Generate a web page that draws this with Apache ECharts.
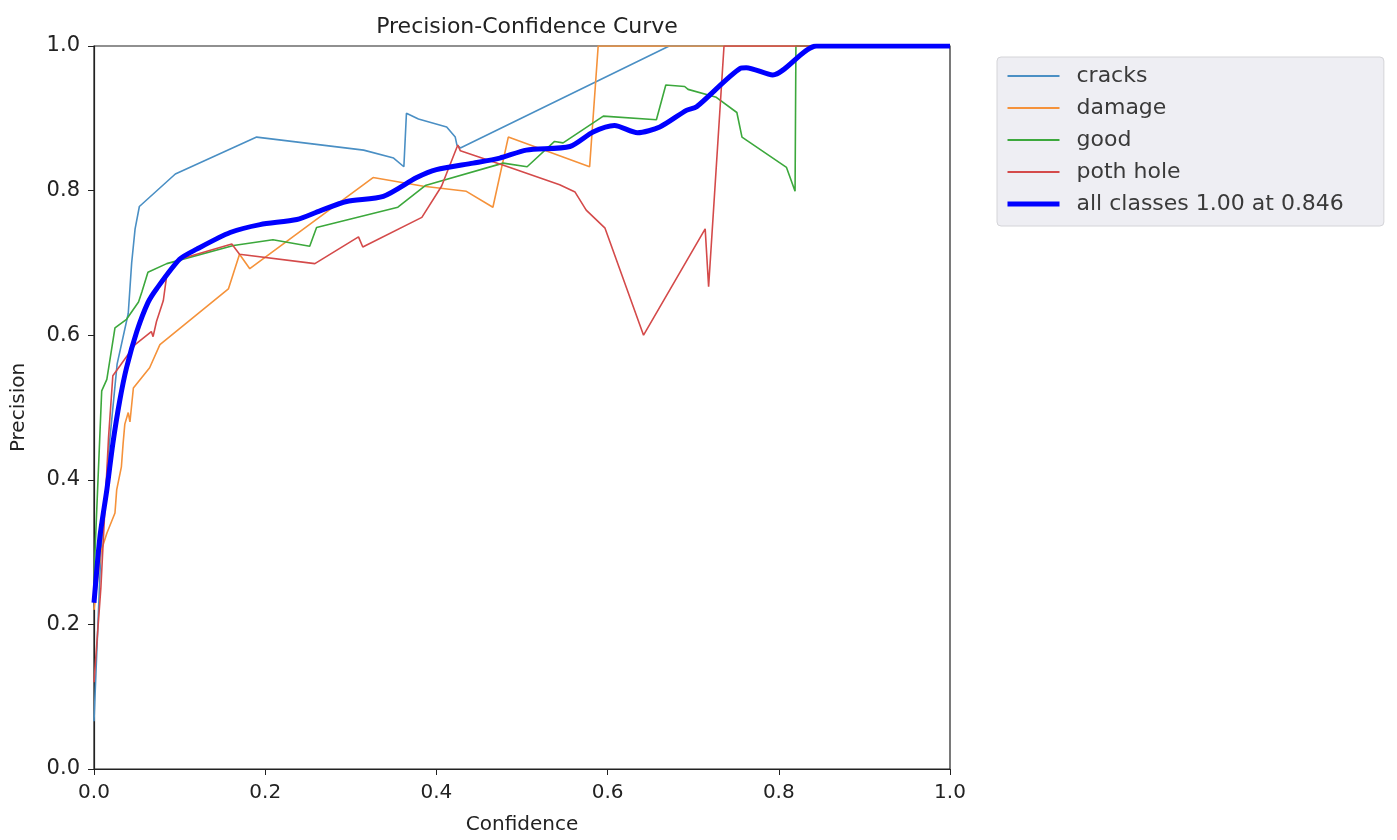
<!DOCTYPE html>
<html>
<head>
<meta charset="utf-8">
<script src="https://cdn.jsdelivr.net/npm/echarts@6/dist/echarts.min.js"></script>
<style>
html,body{margin:0;padding:0;background:#fff;}
#chart{width:1397px;height:840px;}
</style>
</head>
<body>
<div id="chart"></div>
<script>
const xTicks = [0, 0.2, 0.4, 0.6, 0.8, 1.0];
const yTicks = [0, 0.2, 0.4, 0.6, 0.8, 1.0];
const seriesNames = ['cracks', 'damage', 'good', 'poth hole', 'all classes 1.00 at 0.846'];

const cracks = [[0,0.066],[0.008,0.30],[0.018,0.45],[0.027,0.56],[0.04,0.63],[0.044,0.70],[0.048,0.747],[0.053,0.778],[0.095,0.823],[0.19,0.874],[0.315,0.856],[0.35,0.845],[0.362,0.833],[0.365,0.907],[0.379,0.899],[0.412,0.888],[0.422,0.874],[0.424,0.863],[0.428,0.859],[0.672,1.0],[1.0,1.0]];

const damage = [[0,0.22],[0.008,0.30],[0.015,0.326],[0.0245,0.354],[0.0265,0.386],[0.032,0.418],[0.034,0.45],[0.036,0.477],[0.04,0.493],[0.042,0.48],[0.046,0.527],[0.065,0.555],[0.077,0.587],[0.157,0.664],[0.17,0.712],[0.182,0.692],[0.326,0.818],[0.385,0.806],[0.435,0.799],[0.466,0.777],[0.484,0.874],[0.579,0.833],[0.589,1.0],[1.0,1.0]];

const good = [[0,0.24],[0.001,0.295],[0.009,0.523],[0.015,0.539],[0.0245,0.61],[0.038,0.622],[0.052,0.646],[0.056,0.66],[0.063,0.687],[0.085,0.699],[0.163,0.724],[0.209,0.732],[0.252,0.723],[0.26,0.749],[0.355,0.777],[0.387,0.807],[0.478,0.838],[0.506,0.833],[0.538,0.868],[0.548,0.866],[0.595,0.903],[0.657,0.898],[0.668,0.946],[0.69,0.944],[0.694,0.94],[0.727,0.929],[0.751,0.908],[0.757,0.874],[0.809,0.832],[0.819,0.799],[0.82,1.0],[1.0,1.0]];

const pothHole = [[0,0.12],[0.008,0.25],[0.017,0.459],[0.022,0.544],[0.030,0.557],[0.048,0.587],[0.067,0.605],[0.069,0.598],[0.073,0.619],[0.081,0.648],[0.085,0.683],[0.1,0.705],[0.161,0.726],[0.17,0.712],[0.258,0.699],[0.309,0.736],[0.314,0.722],[0.383,0.763],[0.406,0.806],[0.425,0.863],[0.428,0.855],[0.486,0.832],[0.544,0.808],[0.562,0.798],[0.575,0.773],[0.597,0.748],[0.642,0.600],[0.714,0.747],[0.718,0.667],[0.736,1.0],[1.0,1.0]];

const allClasses = [[0,0.23],[0.007,0.322],[0.015,0.386],[0.022,0.45],[0.030,0.509],[0.038,0.555],[0.05,0.605],[0.063,0.645],[0.073,0.664],[0.1,0.705],[0.12,0.719],[0.159,0.742],[0.194,0.753],[0.237,0.760],[0.264,0.772],[0.295,0.785],[0.338,0.792],[0.377,0.818],[0.40,0.829],[0.443,0.838],[0.474,0.845],[0.505,0.856],[0.556,0.861],[0.583,0.881],[0.608,0.890],[0.635,0.880],[0.661,0.888],[0.692,0.911],[0.704,0.916],[0.755,0.969],[0.762,0.970],[0.793,0.960],[0.844,1.0],[1.0,1.0]];

const colors = ['#4a8fc4', '#f5923a', '#3ca83c', '#d44a4a', '#0000ff'];
const font = 'DejaVu Sans';

const chart = echarts.init(document.getElementById('chart'), null, {renderer: 'canvas'});

function lineSeries(name, data, color, width, smooth) {
  return {
    name: name, type: 'line', data: data, symbol: 'none', smooth: smooth || false,
    lineStyle: {color: color, width: width}, itemStyle: {color: color},
    clip: true, animation: false, z: width > 2 ? 5 : 2
  };
}

chart.setOption({
  backgroundColor: '#ffffff',
  animation: false,
  title: {
    text: 'Precision-Confidence Curve',
    left: 522, top: 11, textAlign: 'center',
    textStyle: {fontFamily: font, fontSize: 22, fontWeight: 'normal', color: '#222'}
  },
  grid: {left: 94, right: 447, top: 46, bottom: 65, show: true, borderColor: '#222', borderWidth: 1.2, backgroundColor: '#fff'},
  legend: {
    data: seriesNames.map((n, i) => ({name: n, lineStyle: {width: i === 4 ? 5 : 2}})),
    orient: 'vertical',
    left: 997, top: 57,
    backgroundColor: '#eeeef3',
    borderColor: '#d4d4d8', borderWidth: 1, borderRadius: 4,
    padding: [7, 40, 10, 8],
    itemWidth: 52, itemHeight: 14, itemGap: 8,
    itemStyle: {opacity: 0},
    textStyle: {fontFamily: font, fontSize: 22, color: '#3a3a3a', lineHeight: 24, padding: [0, 0, 0, 12]}
  },
  xAxis: {
    type: 'value', min: 0, max: 1, interval: 0.2,
    name: 'Confidence', nameLocation: 'middle', nameGap: 46,
    nameTextStyle: {fontFamily: font, fontSize: 20, color: '#222'},
    axisLine: {show: true, onZero: false, lineStyle: {color: '#222', width: 1.2}},
    axisTick: {show: true, length: 6, lineStyle: {color: '#222'}},
    axisLabel: {fontFamily: font, fontSize: 20, color: '#222', margin: 14,
      formatter: v => xTicks.includes(Math.round(v * 10) / 10) ? v.toFixed(1) : ''},
    splitLine: {show: false}
  },
  yAxis: {
    type: 'value', min: 0, max: 1, interval: 0.2,
    name: 'Precision', nameLocation: 'middle', nameGap: 65,
    nameTextStyle: {fontFamily: font, fontSize: 20, color: '#222'},
    axisLine: {show: true, onZero: false, lineStyle: {color: '#222', width: 1.2}},
    axisTick: {show: true, length: 6, lineStyle: {color: '#222'}},
    axisLabel: {fontFamily: font, fontSize: 21, color: '#222', margin: 14,
      formatter: v => yTicks.includes(Math.round(v * 10) / 10) ? v.toFixed(1) : ''},
    splitLine: {show: false}
  },
  series: [
    lineSeries(seriesNames[0], cracks, colors[0], 1.6),
    lineSeries(seriesNames[1], damage, colors[1], 1.6),
    lineSeries(seriesNames[2], good, colors[2], 1.6),
    lineSeries(seriesNames[3], pothHole, colors[3], 1.6),
    lineSeries(seriesNames[4], allClasses, colors[4], 5, 0.25)
  ]
});
</script>
</body>
</html>
